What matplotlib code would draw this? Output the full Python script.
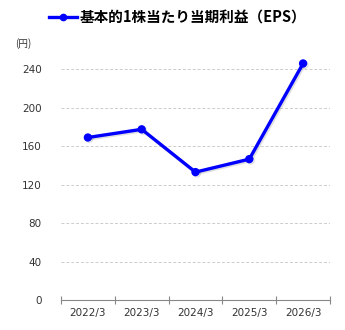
import matplotlib
matplotlib.use("Agg")
import matplotlib.pyplot as plt
from matplotlib.lines import Line2D
import matplotlib.patheffects as pe

plt.rcParams['font.family'] = ['Noto Sans CJK JP', 'DejaVu Sans']

categories = ["2022/3", "2023/3", "2024/3", "2025/3", "2026/3"]
eps = [169, 177.5, 133, 146.5, 246]
yticks = [0, 40, 80, 120, 160, 200, 240]
series_name = "基本的1株当たり当期利益（EPS）"
unit_label = "(円)"

fig = plt.figure(figsize=(3.45, 3.30), dpi=100)
ax = fig.add_axes([0.1768, 0.0909, 0.7797, 0.7576])

x = list(range(len(categories)))
ax.plot(x, eps, color="#0000FF", lw=2.4, marker="o", ms=5, zorder=3,
        path_effects=[pe.SimpleLineShadow(offset=(1, -1), alpha=0.12), pe.Normal()])

ax.set_xlim(-0.5, len(categories) - 0.5)
ax.set_ylim(0, 260)
ax.set_yticks(yticks)
ax.set_yticklabels([str(v) for v in yticks], family='DejaVu Sans', fontsize=7.5, color="#333333")
ax.set_xticks(x)
ax.set_xticklabels(categories, family='DejaVu Sans', fontsize=7.5, color="#333333")
ax.set_xticks([i - 0.5 for i in range(len(categories) + 1)], minor=True)
ax.tick_params(axis='x', which='major', length=0, pad=6)
ax.tick_params(axis='x', which='minor', direction='inout', length=6, color="#888888", width=0.8)
ax.tick_params(axis='y', length=0, pad=14)

for s in ["top", "right", "left"]:
    ax.spines[s].set_visible(False)
ax.spines["bottom"].set_color("#888888")
ax.spines["bottom"].set_linewidth(0.8)

for v in yticks[1:]:
    ax.axhline(v, color="#cccccc", lw=0.7, ls=(0, (3, 2)), zorder=1)

handle = Line2D([0], [0], color="#0000FF", lw=2.4, marker="o", ms=4.5)
fig.legend([handle], [series_name], loc="center", bbox_to_anchor=(0.515, 0.948),
           frameon=False, handlelength=1.9, handletextpad=0.15,
           prop={'family': ['Noto Sans CJK JP', 'DejaVu Sans'], 'weight': 'bold', 'size': 10.5})

fig.text(15 / 345, 1 - 44 / 330, unit_label, fontsize=7, color="#333333", va="center", ha="left",
         family=['Noto Sans CJK JP', 'DejaVu Sans'])

fig.savefig("out.png", dpi=100)
